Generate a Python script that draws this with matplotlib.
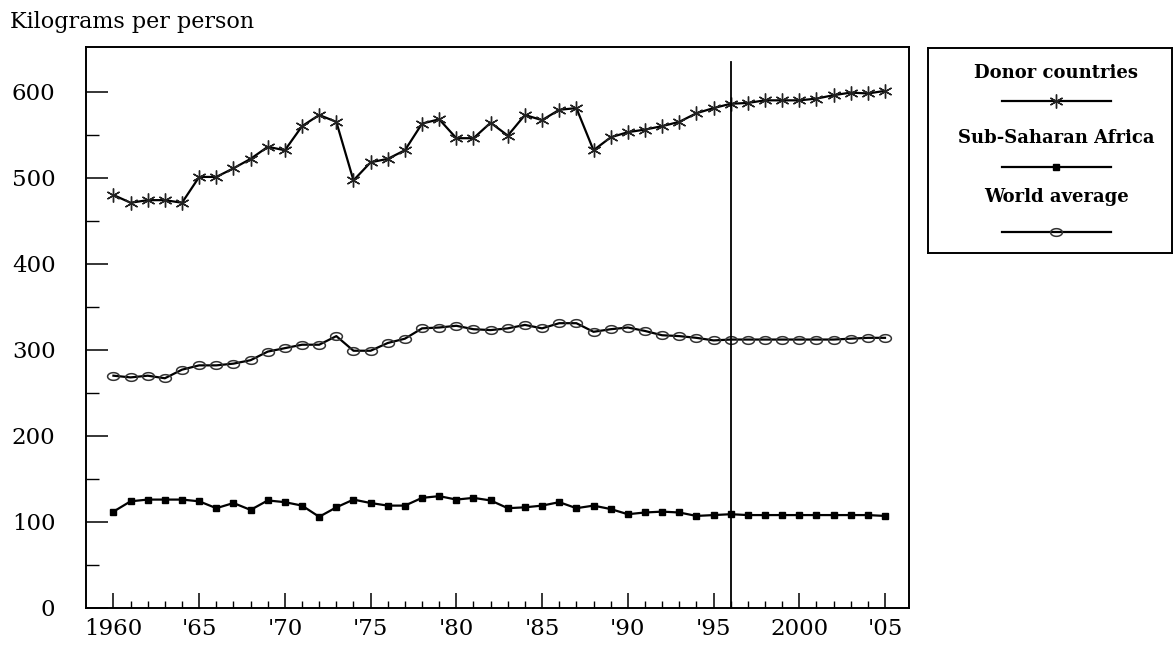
import matplotlib

matplotlib.use("Agg")
import matplotlib.pyplot as plt
from matplotlib.path import Path
import numpy as np

plt.rcParams["font.family"] = ["DejaVu Serif"]

years = list(range(1960, 2006))

# Kilograms per person
donor = [480, 471, 474, 474, 471, 501, 501, 511, 522, 536,
         532, 560, 573, 565, 497, 518, 522, 532, 563, 568,
         546, 546, 564, 549, 573, 567, 579, 581, 532, 547,
         553, 556, 560, 565, 575, 581, 586, 587, 590, 590,
         590, 592, 596, 599, 598, 601]
africa = [112, 124, 126, 126, 126, 124, 116, 122, 114, 125,
          123, 119, 106, 117, 126, 122, 119, 119, 128, 130,
          126, 128, 125, 116, 117, 119, 123, 116, 119, 115,
          109, 111, 112, 111, 107, 108, 109, 108, 108, 108,
          108, 108, 108, 108, 108, 107]
world = [270, 268, 270, 267, 277, 282, 282, 284, 288, 298,
         302, 306, 306, 316, 299, 299, 308, 313, 325, 326,
         328, 324, 323, 325, 329, 325, 331, 331, 321, 324,
         326, 322, 317, 316, 314, 311, 312, 312, 312, 312,
         312, 312, 312, 313, 314, 314]

series_names = ["Donor countries", "Sub-Saharan Africa", "World average"]
year_labels = ["1960", "'65", "'70", "'75", "'80", "'85", "'90", "'95", "2000", "'05"]
y_labels = ["0", "100", "200", "300", "400", "500", "600"]
split_year = 1996

# flat ellipse marker used for the world average
t = np.linspace(0, 2 * np.pi, 40)
ellipse = Path(np.column_stack([np.cos(t), 0.65 * np.sin(t)]), closed=True)

styles = [
    dict(marker=(6, 2, 0), markersize=10, markeredgewidth=1.0,
         markeredgecolor="#222222"),
    dict(marker="s", markersize=4, markerfacecolor="black",
         markeredgecolor="black"),
    dict(marker=ellipse, markersize=8.5, markerfacecolor="none",
         markeredgecolor="#333333", markeredgewidth=1.1),
]

fig = plt.figure(figsize=(11.76, 6.46), dpi=100)
ax = fig.add_axes([86 / 1176, 1 - 608 / 646, (909 - 86) / 1176, (608 - 47) / 646])

for vals, st in zip([donor, africa, world], styles):
    ax.plot(years, vals, color="black", linewidth=1.6, **st)

ax.plot([split_year, split_year], [0, 635], color="black", linewidth=1.3)

ax.set_xlim(1958.4, 2006.4)
ax.set_ylim(0, 652)

ax.set_xticks(years[::5])
ax.set_xticklabels(year_labels)
ax.set_xticks([y for y in years if y % 5], minor=True)
ax.set_yticks(range(0, 700, 100))
ax.set_yticklabels(y_labels)
ax.set_yticks(range(50, 600, 100), minor=True)

ax.tick_params(axis="x", which="major", direction="in", length=11, width=1.1,
               pad=7, labelsize=16.5)
ax.tick_params(axis="x", which="minor", direction="in", length=5, width=1.0)
ax.tick_params(axis="y", which="major", direction="in", length=16, width=1.1,
               pad=22, labelsize=16.5)
ax.tick_params(axis="y", which="minor", direction="in", length=9, width=1.0)
for s in ax.spines.values():
    s.set_linewidth(1.4)

fig.text(10 / 1176, 1 - 28 / 646, "Kilograms per person", fontsize=16,
         va="baseline", ha="left")

# legend box drawn by hand
lax = fig.add_axes([928 / 1176, 1 - 253 / 646, (1172 - 928) / 1176, (253 - 48) / 646])
lax.set_xlim(928, 1172)
lax.set_ylim(253, 48)
lax.set_xticks([])
lax.set_yticks([])
for s in lax.spines.values():
    s.set_linewidth(1.4)

text_y = [73, 138, 197]
line_y = [101, 167, 232]
for name, st, ty, ly in zip(series_names, styles, text_y, line_y):
    lax.text(1056, ty, name, ha="center", va="center", fontsize=13,
             fontweight="bold")
    lax.plot([1002, 1111], [ly, ly], color="black", linewidth=1.6)
    lax.plot([1056], [ly], color="black", linestyle="none", **st)

fig.savefig("out.png", dpi=100)
